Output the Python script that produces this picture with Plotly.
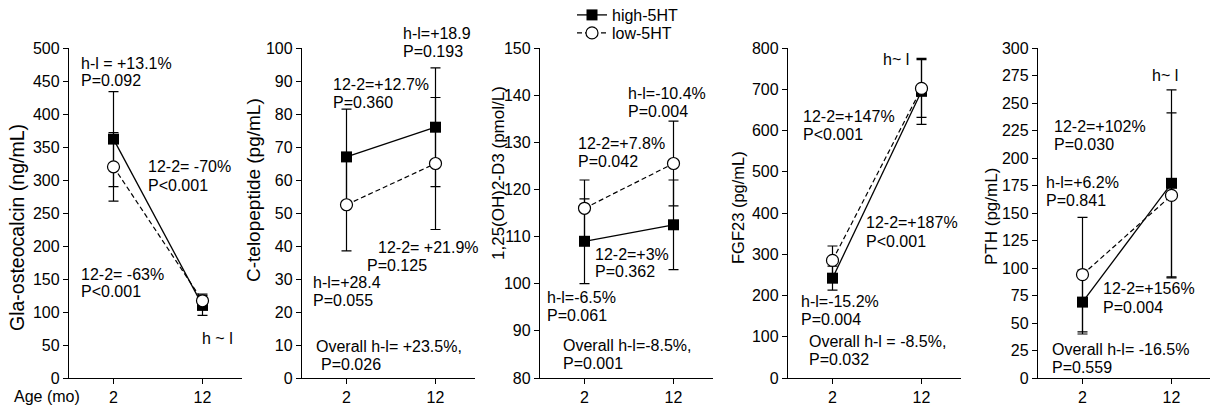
import plotly.graph_objects as go

# ---------------- data ----------------
ages = ["2", "12"]

titles = ["Gla-osteocalcin (ng/mL)", "C-telopeptide (pg/mL)",
          "1,25(OH)2-D3 (pmol/L)", "FGF23 (pg/mL)", "PTH (pg/mL)"]

gla_high = [362, 110]
gla_high_err = [72, 15]
gla_low = [320, 117]
gla_low_err = [52, 10]

ctx_high = [67, 76]
ctx_high_err = [14.5, 18]
ctx_low = [52.5, 65]
ctx_low_err = [14, 20]

d3_high = [109, 112.5]
d3_high_err = [9, 9.5]
d3_low = [116, 125.5]
d3_low_err = [6, 9]

fgf_high = [242, 695]
fgf_high_err = [29, 80]
fgf_low = [285, 702]
fgf_low_err = [35, 70]

pth_high = [69, 177]
pth_high_err = [29, 85]
pth_low = [94, 166]
pth_low_err = [52, 75]

y_ranges = [[0, 500], [0, 100], [80, 150], [0, 800], [0, 300]]
y_dticks = [50, 10, 10, 100, 25]

# annotation texts (one per line) for each panel
notes_text = [
    ["h-l = +13.1%", "P=0.092", "12-2= -70%", "P<0.001", "12-2= -63%", "P<0.001", "h ~ l"],
    ["h-l=+18.9", "P=0.193", "12-2=+12.7%", "P=0.360", "12-2= +21.9%", "P=0.125",
     "h-l=+28.4", "P=0.055", "Overall h-l= +23.5%,", "P=0.026"],
    ["h-l=-10.4%", "P=0.004", "12-2=+7.8%", "P=0.042", "12-2=+3%", "P=0.362",
     "h-l=-6.5%", "P=0.061", "Overall h-l=-8.5%,", "P=0.001"],
    ["h~ l", "12-2=+147%", "P<0.001", "12-2=+187%", "P<0.001", "h-l=-15.2%", "P=0.004",
     "Overall h-l = -8.5%,", "P=0.032"],
    ["h~ l", "12-2=+102%", "P=0.030", "h-l=+6.2%", "P=0.841", "12-2=+156%", "P=0.004",
     "Overall h-l= -16.5%", "P=0.559"],
]

# ---------------- layout / positions ----------------
# (x in category-index units, y in data units) of each annotation line
notes_pos = [
    [(-0.39, 477), (-0.39, 451), (0.36, 320), (0.36, 292), (-0.39, 157), (-0.39, 131), (0.97, 60)],
    [(0.61, 104.5), (0.61, 99), (-0.17, 89), (-0.17, 83.5), (0.33, 39.5), (0.21, 34),
     (-0.40, 29), (-0.40, 23.5), (-0.37, 9.4), (-0.31, 4)],
    [(0.47, 140.3), (0.47, 136.5), (-0.09, 129.7), (-0.09, 125.9), (0.09, 106.2), (0.09, 102.6),
     (-0.44, 97.1), (-0.44, 93.3), (-0.26, 86.8), (-0.26, 83)],
    [(0.55, 773), (-0.35, 634), (-0.35, 590), (0.35, 376), (0.35, 332), (-0.38, 185), (-0.38, 141),
     (-0.29, 88), (-0.29, 44)],
    [(0.76, 275), (-0.34, 229), (-0.34, 212.5), (-0.43, 178), (-0.43, 161.5), (0.21, 81), (0.21, 64.5),
     (-0.37, 26), (-0.37, 9.5)],
]

W, H = 1210, 408
FONT = "Arial, Liberation Sans, sans-serif"
x_left_px = [69, 302, 540, 788, 1038]
panel_w_px = 173
x_range = [-0.5, 1.43]
y_top_px, y_bot_px = 48, 378
title_pos_px = [(17, 228), (253, 190), (498, 173), (738, 208), (991, 217)]
title_sizes = [19.5, 19, 17, 16.5, 17]

highs = [gla_high, ctx_high, d3_high, fgf_high, pth_high]
highs_err = [gla_high_err, ctx_high_err, d3_high_err, fgf_high_err, pth_high_err]
lows = [gla_low, ctx_low, d3_low, fgf_low, pth_low]
lows_err = [gla_low_err, ctx_low_err, d3_low_err, fgf_low_err, pth_low_err]

fig = go.Figure()
annotations = []
axis_style = dict(showline=True, linecolor="black", linewidth=1.3, ticks="outside",
                  ticklen=5, tickwidth=1.3, tickcolor="black", showgrid=False,
                  zeroline=False, automargin=False,
                  tickfont=dict(size=16, color="black", family=FONT))

for i in range(5):
    n = "" if i == 0 else str(i + 1)
    xa, ya = "x" + n, "y" + n
    fig.add_trace(go.Scatter(
        x=ages, y=highs[i], xaxis=xa, yaxis=ya, mode="lines+markers",
        name="high-5HT", legend="legend", showlegend=(i == 0),
        line=dict(color="black", width=1.3),
        marker=dict(symbol="square", size=11, color="black", line=dict(width=0)),
        error_y=dict(type="data", array=highs_err[i], color="black", thickness=1.2, width=5),
    ))
    fig.add_trace(go.Scatter(
        x=ages, y=lows[i], xaxis=xa, yaxis=ya, mode="lines+markers",
        name="low-5HT", legend="legend2", showlegend=(i == 0),
        line=dict(color="black", width=1.2, dash="5px,3px"),
        marker=dict(symbol="circle", size=12, color="white", line=dict(color="black", width=1.2)),
        error_y=dict(type="data", array=lows_err[i], color="black", thickness=1.2, width=5),
    ))
    x0 = x_left_px[i]
    x1 = min(x0 + panel_w_px, W)
    fig.layout["xaxis" + n] = dict(
        domain=[x0 / W, x1 / W], anchor=ya, type="category",
        range=[x_range[0], x_range[0] + (x1 - x0) / 89.0], **axis_style)
    fig.layout["yaxis" + n] = dict(
        domain=[1 - y_bot_px / H, 1 - y_top_px / H], anchor=xa,
        range=y_ranges[i], dtick=y_dticks[i], tick0=y_ranges[i][0], **axis_style)
    y0, y1 = y_ranges[i]
    xr = (x1 - x0) / 89.0
    for txt, (ax, ay) in zip(notes_text[i], notes_pos[i]):
        annotations.append(dict(
            text=txt,
            x=(ax - x_range[0]) / xr,
            y=(ay - y0) / (y1 - y0),
            xref=xa + " domain", yref=ya + " domain", xanchor="left",
            yanchor="middle", showarrow=False,
            font=dict(size=16, color="black", family=FONT)))
    tx, ty = title_pos_px[i]
    annotations.append(dict(text=titles[i], x=tx / W, y=1 - ty / H, xref="paper", yref="paper",
                            xanchor="center", yanchor="middle", textangle=-90, showarrow=False,
                            font=dict(size=title_sizes[i], color="black", family=FONT)))

annotations.append(dict(text="Age (mo)", x=82 / W, y=1 - 396 / H, xref="paper", yref="paper",
                        xanchor="right", yanchor="middle", showarrow=False,
                        font=dict(size=16, color="black", family=FONT)))

leg = dict(xanchor="left", yanchor="middle", bgcolor="rgba(0,0,0,0)", borderwidth=0,
           font=dict(size=16, color="black", family=FONT), itemsizing="trace")
fig.update_layout(
    width=W, height=H, margin=dict(l=0, r=0, t=0, b=0, pad=0, autoexpand=False),
    paper_bgcolor="white", plot_bgcolor="white",
    font=dict(family=FONT, color="black"),
    annotations=annotations,
    legend=dict(x=572 / W, y=1 - 15 / H, **leg),
    legend2=dict(x=572 / W, y=1 - 33 / H, **leg),
)

fig.write_html("out.html",
               config={"displayModeBar": False},
               post_script="document.body.style.margin='0';document.body.style.overflow='hidden';")
